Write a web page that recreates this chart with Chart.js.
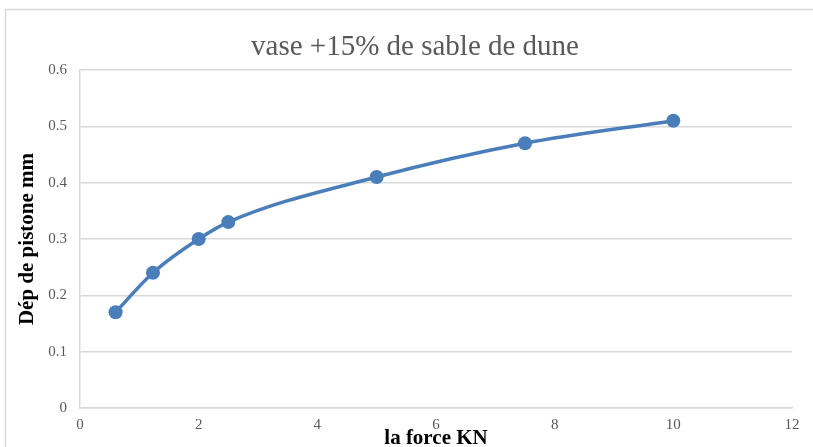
<!DOCTYPE html>
<html>
<head>
<meta charset="utf-8">
<script src="https://cdn.jsdelivr.net/npm/chart.js@4/dist/chart.umd.min.js"></script>
<style>
html,body{margin:0;padding:0;background:#fff;}
#wrap{width:813px;height:447px;position:relative;}
</style>
</head>
<body>
<div id="wrap"><canvas id="c" width="813" height="447"></canvas></div>
<script>
const chartTitle = "vase +15% de sable de dune";
const xTitle = "la force KN";
const yTitle = "Dép de pistone mm";
const forceKN = [0.6, 1.23, 2, 2.5, 5, 7.5, 10];
const deplacement = [0.17, 0.24, 0.30, 0.33, 0.41, 0.47, 0.51];
const xMin = 0, xMax = 12, xStep = 2;
const yMin = 0, yMax = 0.6, yStep = 0.1;

const points = forceKN.map((x, i) => ({x: x, y: deplacement[i]}));

const serif = "'Liberation Serif', 'Times New Roman', serif";

const frame = {
  id: 'frame',
  beforeDraw(chart) {
    const ctx = chart.ctx;
    ctx.save();
    ctx.strokeStyle = '#d9d9d9';
    ctx.lineWidth = 1.5;
    ctx.strokeRect(5.5, 9.5, 900, 600);
    ctx.restore();
  },
  afterDraw(chart) {
    const ctx = chart.ctx;
    ctx.save();
    ctx.fillStyle = '#595959';
    ctx.font = "29px " + serif;
    ctx.textAlign = 'center';
    ctx.textBaseline = 'middle';
    ctx.fillText(chartTitle, 415, 47);
    ctx.restore();
  }
};

new Chart(document.getElementById('c'), {
  type: 'scatter',
  data: {
    datasets: [{
      data: points,
      showLine: true,
      borderColor: '#4a7ebb',
      backgroundColor: '#4a7ebb',
      borderWidth: 3.5,
      pointRadius: 7,
      pointHoverRadius: 7,
      pointBorderWidth: 0,
      tension: 0.4,
      cubicInterpolationMode: 'monotone'
    }]
  },
  plugins: [frame],
  options: {
    responsive: false,
    animation: false,
    devicePixelRatio: 1,
    layout: {padding: {left: 0, right: 21, top: 70, bottom: -4}},
    plugins: {
      legend: {display: false},
      tooltip: {enabled: false},
      title: {display: false}
    },
    scales: {
      x: {
        type: 'linear',
        min: xMin, max: xMax,
        afterFit(scale) { scale.height = 43; },
        ticks: {stepSize: xStep, color: '#595959', padding: 8,
                font: {family: serif, size: 15}},
        grid: {display: false, drawTicks: false},
        border: {display: true, color: '#d9d9d9', width: 1.5},
        title: {display: true, text: xTitle, color: '#000',
                font: {family: serif, size: 21, weight: 'bold', lineHeight: 1.2},
                padding: {top: 0, bottom: 0}}
      },
      y: {
        type: 'linear',
        min: yMin, max: yMax,
        afterFit(scale) { scale.width = 80; },
        ticks: {stepSize: yStep, color: '#595959', padding: 13,
                font: {family: serif, size: 15},
                callback: v => (Math.round(v * 10) / 10).toString()},
        grid: {color: '#d9d9d9', lineWidth: 1.5, drawTicks: false},
        border: {display: true, color: '#d9d9d9', width: 1.5},
        title: {display: true, text: yTitle, color: '#000',
                font: {family: serif, size: 21, weight: 'bold', lineHeight: 1.2},
                padding: {top: 15, bottom: 0}}
      }
    }
  }
});
</script>
</body>
</html>
